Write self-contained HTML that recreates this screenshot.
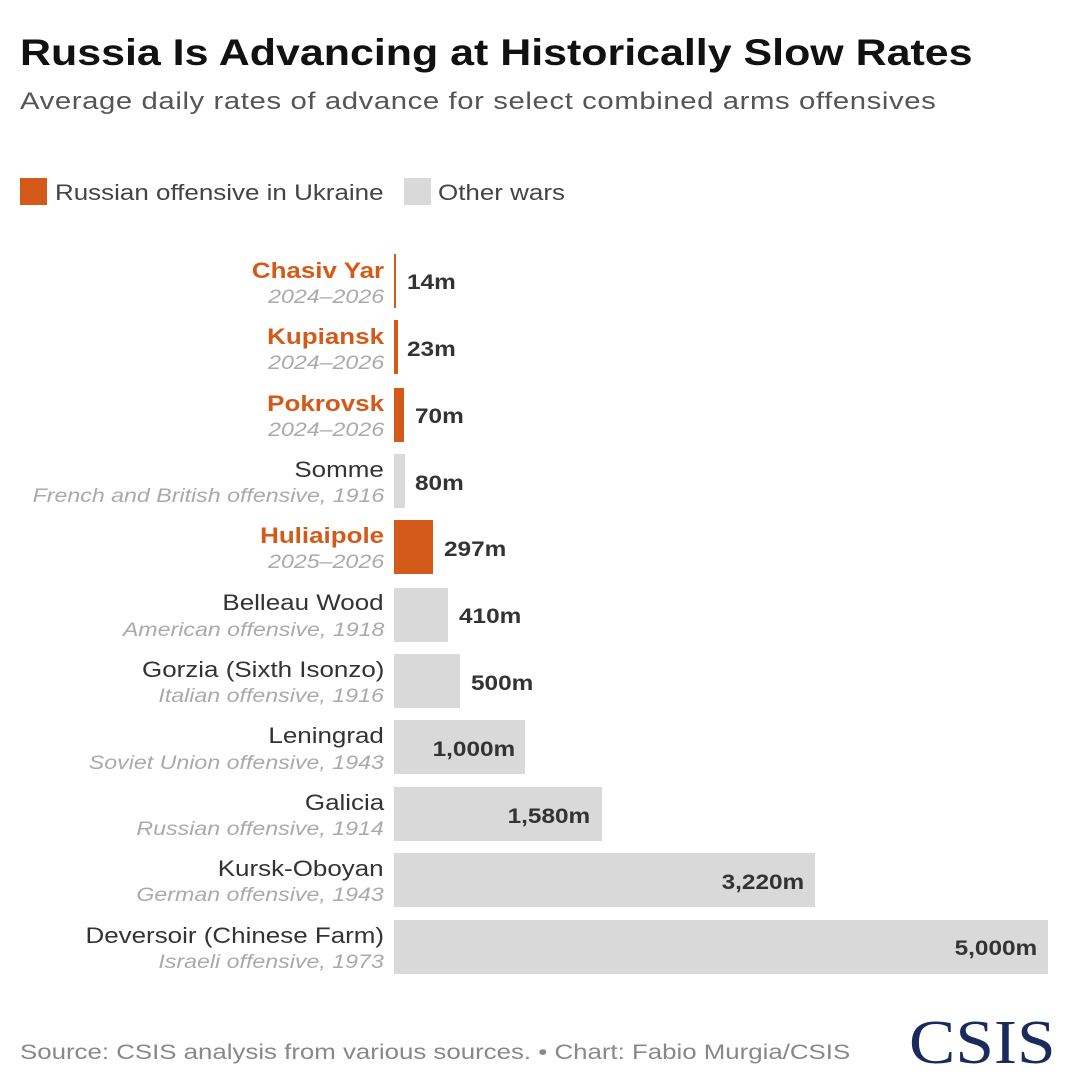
<!DOCTYPE html>
<html><head><meta charset="utf-8"><style>
body{margin:0;width:1070px;height:1088px;background:#fff;font-family:"Liberation Sans",sans-serif;position:relative;overflow:hidden}
.a{position:absolute;white-space:nowrap;transform-origin:left top}
.bar{position:absolute;left:394px;height:54px}
.o{background:#d45a19}.g{background:#d9d9d9}
.n{position:absolute;right:686px;text-align:right;font-size:22px;color:#333;white-space:nowrap;transform:scaleX(1.18);transform-origin:right top}
.n.r{color:#d45a19;font-weight:bold}
.s{position:absolute;right:686px;text-align:right;font-size:19px;color:#aaa;font-style:italic;white-space:nowrap;transform:scaleX(1.22);transform-origin:right top}
.v{position:absolute;font-size:21px;font-weight:bold;color:#333;white-space:nowrap;transform:scaleX(1.16);transform-origin:left top}
.vi{position:absolute;font-size:21px;font-weight:bold;color:#333;white-space:nowrap;transform:scaleX(1.16);transform-origin:right top;text-align:right}
</style></head><body>
<div class="a" style="left:20px;top:32px;font-size:37px;font-weight:bold;color:#111;transform:scaleX(1.16)">Russia Is Advancing at Historically Slow Rates</div>
<div class="a" style="left:20px;top:88px;font-size:24px;color:#555;letter-spacing:0.5px;transform:scaleX(1.22)">Average daily rates of advance for select combined arms offensives</div>
<div class="a" style="left:20px;top:178px;width:27px;height:27px;background:#d45a19"></div>
<div class="a" style="left:55px;top:180px;font-size:22px;color:#444;transform:scaleX(1.18)">Russian offensive in Ukraine</div>
<div class="a" style="left:404px;top:178px;width:27px;height:27px;background:#d9d9d9"></div>
<div class="a" style="left:438px;top:180px;font-size:22px;color:#444;transform:scaleX(1.18)">Other wars</div>

<div class="bar o" style="top:254px;width:2px"></div>
<div class="n r" style="top:258px">Chasiv Yar</div><div class="s" style="top:287px">2024–2026</div>
<div class="v" style="left:407px;top:271px">14m</div>

<div class="bar o" style="top:320px;width:4px"></div>
<div class="n r" style="top:324px">Kupiansk</div><div class="s" style="top:353px">2024–2026</div>
<div class="v" style="left:407px;top:338px">23m</div>

<div class="bar o" style="top:388px;width:10px"></div>
<div class="n r" style="top:391px">Pokrovsk</div><div class="s" style="top:420px">2024–2026</div>
<div class="v" style="left:415px;top:405px">70m</div>

<div class="bar g" style="top:454px;width:11px"></div>
<div class="n" style="top:457px">Somme</div><div class="s" style="top:486px">French and British offensive, 1916</div>
<div class="v" style="left:415px;top:472px">80m</div>

<div class="bar o" style="top:520px;width:39px"></div>
<div class="n r" style="top:523px">Huliaipole</div><div class="s" style="top:552px">2025–2026</div>
<div class="v" style="left:444px;top:538px">297m</div>

<div class="bar g" style="top:588px;width:54px"></div>
<div class="n" style="top:590px">Belleau Wood</div><div class="s" style="top:620px">American offensive, 1918</div>
<div class="v" style="left:459px;top:605px">410m</div>

<div class="bar g" style="top:654px;width:66px"></div>
<div class="n" style="top:657px">Gorzia (Sixth Isonzo)</div><div class="s" style="top:686px">Italian offensive, 1916</div>
<div class="v" style="left:471px;top:672px">500m</div>

<div class="bar g" style="top:720px;width:131px"></div>
<div class="n" style="top:723px">Leningrad</div><div class="s" style="top:753px">Soviet Union offensive, 1943</div>
<div class="vi" style="right:555px;top:738px">1,000m</div>

<div class="bar g" style="top:787px;width:208px"></div>
<div class="n" style="top:790px">Galicia</div><div class="s" style="top:819px">Russian offensive, 1914</div>
<div class="vi" style="right:480px;top:805px">1,580m</div>

<div class="bar g" style="top:853px;width:421px"></div>
<div class="n" style="top:856px">Kursk-Oboyan</div><div class="s" style="top:885px">German offensive, 1943</div>
<div class="vi" style="right:266px;top:871px">3,220m</div>

<div class="bar g" style="top:920px;width:654px"></div>
<div class="n" style="top:923px">Deversoir (Chinese Farm)</div><div class="s" style="top:952px">Israeli offensive, 1973</div>
<div class="vi" style="right:33px;top:937px">5,000m</div>

<div class="a" style="left:20px;top:1041px;font-size:21px;color:#888;transform:scaleX(1.23)">Source: CSIS analysis from various sources. • Chart: Fabio Murgia/CSIS</div>
<div class="a" style="left:909px;top:1008px;font-size:62px;font-family:'Liberation Serif',serif;color:#1a2a5a;transform:scaleX(1.12)">CSIS</div>
</body></html>
